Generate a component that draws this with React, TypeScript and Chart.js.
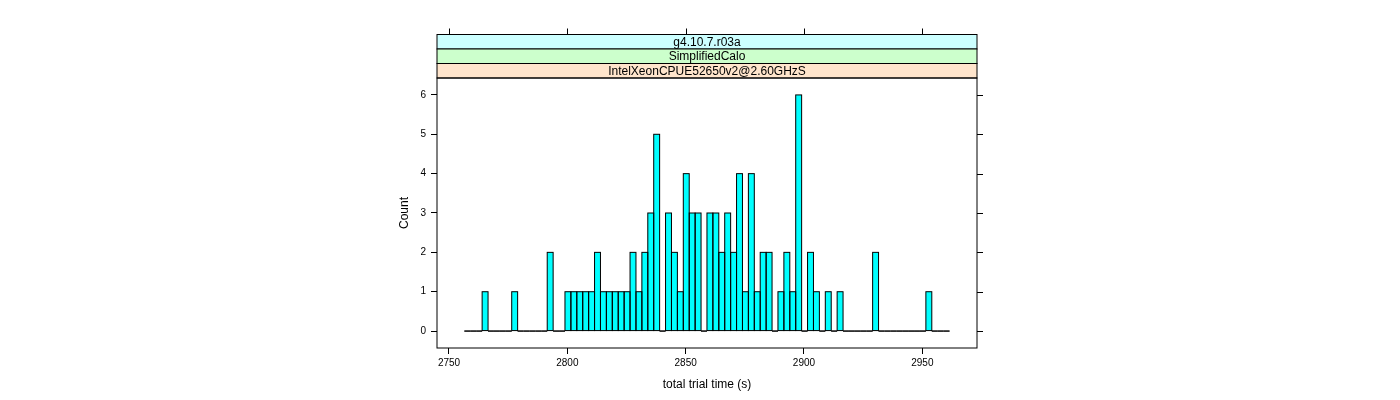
import React, { useEffect, useRef } from "react";
import { Chart, registerables } from "chart.js";

Chart.register(...registerables);

// ---- data ----
const firstBreak = 2756.5; // left edge of first histogram bin
const binWidth = 2.5;
const counts = [
  0, 0, 0, 1, 0, 0, 0, 0, 1, 0,
  0, 0, 0, 0, 2, 0, 0, 1, 1, 1,
  1, 1, 2, 1, 1, 1, 1, 1, 2, 1,
  2, 3, 5, 0, 3, 2, 1, 4, 3, 3,
  0, 3, 3, 2, 3, 2, 4, 1, 4, 1,
  2, 2, 0, 1, 2, 1, 6, 0, 2, 1,
  0, 1, 0, 1, 0, 0, 0, 0, 0, 2,
  0, 0, 0, 0, 0, 0, 0, 0, 1, 0,
  0, 0,
];
const xTicks = [2750, 2800, 2850, 2900, 2950];
const yTicks = [0, 1, 2, 3, 4, 5, 6];
const stripLabels = ["g4.10.7.r03a", "SimplifiedCalo", "IntelXeonCPUE52650v2@2.60GHzS"];
const stripColors = ["#ccffff", "#ccffcc", "#ffe5cc"];
const xTitle = "total trial time (s)";
const yTitle = "Count";

const xMin = 2744.93;
const xMax = 2973.1;
const yMin = -0.43;
const yMax = 6.43;

const FONT = '"Liberation Sans", Arial, Helvetica, sans-serif';

const PANEL = { left: 437, right: 977, top: 78, bottom: 348 };
const STRIP_H = 14.5;

const latticePlugin = {
  id: "lattice",
  afterDatasetsDraw(chart: any) {
    const ctx = chart.ctx;
    const meta = chart.getDatasetMeta(0);
    ctx.save();
    ctx.strokeStyle = "#000";
    ctx.lineWidth = 1;
    meta.data.forEach((el: any) => {
      const p = el.getProps(["x", "y", "base", "width"], true);
      const top = Math.min(p.y, p.base);
      const h = Math.abs(p.base - p.y);
      ctx.strokeRect(p.x - p.width / 2, top, p.width, h);
    });
    ctx.restore();
  },
  afterDraw(chart: any) {
    const ctx = chart.ctx;
    const a = chart.chartArea;
    const xs = chart.scales.x;
    const ys = chart.scales.y;
    ctx.save();
    ctx.lineWidth = 1;
    ctx.strokeStyle = "#000";

    // strips (top to bottom)
    const stripTop = a.top - STRIP_H * stripLabels.length;
    stripLabels.forEach((lab, i) => {
      const y0 = stripTop + i * STRIP_H;
      ctx.fillStyle = stripColors[i];
      ctx.fillRect(a.left, y0, a.right - a.left, STRIP_H);
      ctx.strokeRect(a.left, y0, a.right - a.left, STRIP_H);
      ctx.fillStyle = "#000";
      ctx.font = `12px ${FONT}`;
      ctx.textAlign = "center";
      ctx.textBaseline = "middle";
      ctx.fillText(lab, (a.left + a.right) / 2, y0 + STRIP_H / 2 + 0.5);
    });

    // panel box
    ctx.strokeRect(a.left, a.top, a.right - a.left, a.bottom - a.top);

    // top ticks (above strips)
    ctx.beginPath();
    xTicks.forEach((v) => {
      const px = Math.round(xs.getPixelForValue(v)) + 0.5;
      ctx.moveTo(px, stripTop);
      ctx.lineTo(px, stripTop - 6);
    });
    // right ticks
    yTicks.forEach((v) => {
      const py = Math.round(ys.getPixelForValue(v)) + 0.5;
      ctx.moveTo(a.right, py);
      ctx.lineTo(a.right + 6, py);
    });
    ctx.stroke();

    // axis titles
    ctx.fillStyle = "#000";
    ctx.font = `12px ${FONT}`;
    ctx.textAlign = "center";
    ctx.textBaseline = "middle";
    ctx.fillText(xTitle, (a.left + a.right) / 2, a.bottom + 37);
    ctx.translate(a.left - 32, (a.top + a.bottom) / 2);
    ctx.rotate(-Math.PI / 2);
    ctx.fillText(yTitle, 0, 0);
    ctx.restore();
  },
};

export default function App() {
  const ref = useRef<HTMLCanvasElement>(null);

  useEffect(() => {
    if (!ref.current) return;
    const data = counts.map((c, i) => ({ x: firstBreak + binWidth * (i + 0.5), y: c }));
    const chart = new Chart(ref.current, {
      type: "bar",
      data: {
        datasets: [
          {
            data,
            backgroundColor: "#00ffff",
            borderWidth: 0,
            barPercentage: 1,
            categoryPercentage: 1,
            inflateAmount: 0,
          } as any,
        ],
      },
      options: {
        animation: false,
        responsive: false,
        maintainAspectRatio: false,
        devicePixelRatio: 1,
        layout: {
          padding: { left: 0, top: PANEL.top, right: 1400 - PANEL.right, bottom: 0 },
        },
        plugins: { legend: { display: false }, tooltip: { enabled: false } },
        scales: {
          x: {
            type: "linear",
            min: xMin,
            max: xMax,
            offset: false,
            afterFit(s: any) {
              s.height = 400 - PANEL.bottom;
            },
            afterBuildTicks(s: any) {
              s.ticks = xTicks.map((v) => ({ value: v }));
            },
            grid: {
              drawOnChartArea: false,
              drawTicks: true,
              tickLength: 6,
              tickColor: "#000",
              color: "#000",
              offset: false,
            },
            border: { display: false },
            ticks: {
              font: { family: FONT, size: 10 },
              color: "#000",
              padding: 3,
              maxRotation: 0,
              autoSkip: false,
              callback: (v: any) => String(v),
            },
          },
          y: {
            type: "linear",
            min: yMin,
            max: yMax,
            afterFit(s: any) {
              s.width = PANEL.left;
            },
            afterBuildTicks(s: any) {
              s.ticks = yTicks.map((v) => ({ value: v }));
            },
            grid: {
              drawOnChartArea: false,
              drawTicks: true,
              tickLength: 6,
              tickColor: "#000",
              color: "#000",
            },
            border: { display: false },
            ticks: {
              font: { family: FONT, size: 10 },
              color: "#000",
              padding: 5,
              callback: (v: any) => String(v),
            },
          },
        },
      } as any,
      plugins: [latticePlugin],
    });
    return () => chart.destroy();
  }, []);

  return (
    <div style={{ position: "fixed", left: 0, top: 0, width: 1400, height: 400, background: "#fff" }}>
      <canvas ref={ref} width={1400} height={400} style={{ width: 1400, height: 400, display: "block" }} />
    </div>
  );
}
